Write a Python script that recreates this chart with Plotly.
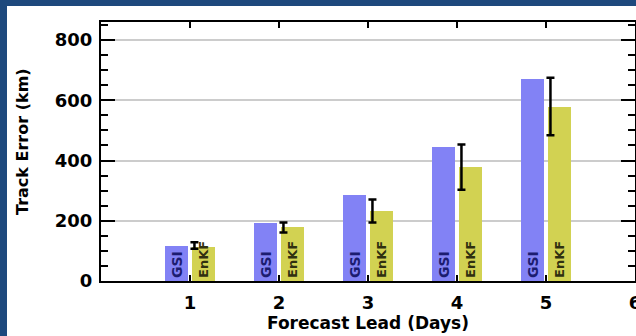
import plotly.graph_objects as go

# ---- data ----
days = [1, 2, 3, 4, 5]
gsi_error = [115, 192, 284, 446, 670]
enkf_error = [112, 178, 233, 380, 579]
enkf_upper = [129, 194, 271, 453, 675]
enkf_lower = [107, 161, 194, 303, 484]
gsi_label = "GSI"
enkf_label = "EnKF"
x_ticks = [1, 2, 3, 4, 5, 6]
y_ticks = [0, 200, 400, 600, 800]
x_title = "Forecast Lead (Days)"
y_title = "Track Error (km)"

FONT = "DejaVu Sans"
BLUE_BG = "#1e497d"
GSI_COLOR = "#8282f5"
ENKF_COLOR = "#d2d252"

W, H = 636, 336
ML, MR, MT, MB = 101, 1, 22, 55
PW, PH = W - ML - MR, H - MT - MB

fig = go.Figure()

fig.add_trace(go.Bar(
    x=days, y=gsi_error, width=0.26, offset=-0.28,
    marker=dict(color=GSI_COLOR, line=dict(width=0)),
    text=[gsi_label] * len(days), textposition="inside",
    insidetextanchor="start", textangle=-90, constraintext="none",
    insidetextfont=dict(family=FONT, size=14, color="#1c1c70", weight="bold"),
    showlegend=False, cliponaxis=False,
))
fig.add_trace(go.Bar(
    x=days, y=enkf_error, width=0.26, offset=0.02,
    marker=dict(color=ENKF_COLOR, line=dict(width=0)),
    text=[enkf_label] * len(days), textposition="inside",
    insidetextanchor="start", textangle=-90, constraintext="none",
    insidetextfont=dict(family=FONT, size=13, color="#303010", weight="bold"),
    showlegend=False, cliponaxis=False,
))
fig.add_trace(go.Scatter(
    x=[d + 0.05 for d in days], y=enkf_error, mode="markers",
    marker=dict(size=1, color="rgba(0,0,0,0)"),
    error_y=dict(type="data", symmetric=False,
                 array=[u - e for u, e in zip(enkf_upper, enkf_error)],
                 arrayminus=[e - l for e, l in zip(enkf_error, enkf_lower)],
                 color="black", thickness=2.5, width=4),
    showlegend=False,
))

# white panel over the blue frame
fig.add_shape(type="rect", xref="paper", yref="paper", layer="below",
              x0=(7 - ML) / PW, x1=(W + 5 - ML) / PW,
              y0=-(MB + 5) / PH, y1=1 + (MT - 6) / PH,
              fillcolor="white", line=dict(width=0))

fig.add_annotation(text=y_title, xref="paper", yref="paper",
                   x=(22 - ML) / PW, y=(H - MB - 142) / PH,
                   xanchor="center", yanchor="middle",
                   textangle=-90, showarrow=False,
                   font=dict(family=FONT, size=16, color="black", weight="bold"))

fig.update_layout(
    width=W, height=H,
    margin=dict(l=ML, r=MR, t=MT, b=MB, autoexpand=False),
    paper_bgcolor=BLUE_BG, plot_bgcolor="white",
    barmode="overlay", bargap=0,
    font=dict(family=FONT, color="black"),
    xaxis=dict(range=[0, 6], tickvals=x_ticks, ticks="inside", ticklen=6,
               tickwidth=2, tickcolor="black", showline=True, linecolor="black",
               linewidth=2, mirror="ticks", showgrid=False, zeroline=False,
               automargin=False, ticklabelstandoff=4, ticklabeloverflow="allow",
               tickfont=dict(family=FONT, size=18, color="black", weight="bold"),
               title=dict(text=x_title, standoff=2,
                          font=dict(family=FONT, size=17, color="black", weight="bold"))),
    yaxis=dict(range=[0, 860], tickvals=y_ticks, ticks="inside", ticklen=14,
               tickwidth=2, tickcolor="black", showline=True, linecolor="black",
               linewidth=2, mirror="ticks", showgrid=True, gridcolor="#cccccc",
               gridwidth=2, zeroline=False, ticklabelstandoff=3, automargin=False,
               minor=dict(dtick=50, ticks="inside", ticklen=7, tickwidth=2,
                          tickcolor="black", showgrid=False),
               tickfont=dict(family=FONT, size=18, color="black", weight="bold")),
)

fig.write_html(
    "out.html",
    config={"displayModeBar": False},
    post_script="document.body.style.margin='0';"
                "document.body.style.background='" + BLUE_BG + "';",
)
